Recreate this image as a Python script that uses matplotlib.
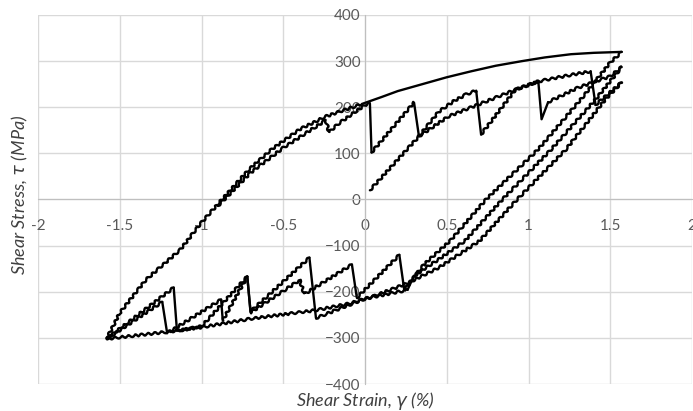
import numpy as np
import matplotlib.pyplot as plt

plt.rcParams.update({"font.family": ["Lato", "DejaVu Sans"]})

GRID, TXT, AX = "#d9d9d9", "#595959", "#bfbfbf"

# first full reload, -1.58 % -> +1.57 %
outer_x = [-1.58, -1.50, -1.34, -1.13, -1.01, -0.90, -0.71, -0.57, -0.40, -0.24, -0.02,
           0.10, 0.20, 0.35, 0.50, 0.65, 0.80, 0.96, 1.10, 1.26, 1.40, 1.57]
outer_y = [-302, -246, -174, -109, -54, -10, 65, 109, 152, 180, 207,
           222, 235, 250, 265, 278, 290, 300, 308, 315, 318, 320]

# serrated tensile branch (shares the lower part of the reload curve)
tens_x = [-0.90, -0.70, -0.50, -0.30, -0.24, -0.22, -0.16, 0.00, 0.03, 0.04, 0.30, 0.33,
          0.51, 0.92, 1.06, 1.08, 1.12, 1.30, 1.50, 1.57]
tens_y = [-14, 58, 112, 158, 172, 146, 165, 205, 208, 102, 210, 137,
          180, 238, 256, 174, 211, 242, 267, 287]

# initial loading from the origin
init_x = [0.03, 0.33, 0.45, 0.55, 0.62, 0.68, 0.71, 0.92, 1.06, 1.20, 1.38, 1.41, 1.57]
init_y = [20, 137, 190, 215, 228, 236, 141, 238, 256, 266, 278, 205, 254]

# unloading branches from the three tips
unl1_x = [1.57, 1.50, 1.32, 1.06, 0.74, 0.52, 0.36]
unl1_y = [320, 297, 217, 109, 0, -90, -141]
unl2_x = [1.57, 1.41, 1.14, 0.84, 0.61, 0.45, 0.30]
unl2_y = [287, 217, 109, 0, -90, -130, -165]
unl3_x = [1.57, 1.47, 1.23, 0.93, 0.70, 0.45, 0.25, 0.05, -0.10, -0.30, -0.69, -1.00, -1.21, -1.58]
unl3_y = [254, 217, 109, 0, -90, -148, -183, -210, -226, -240, -258, -277, -287, -302]

# serrated compressive branches
comp1_x = [0.36, 0.24, 0.21, -0.05, -0.08, -0.37, -0.40, -0.70, -0.72, -0.87, -0.88, -1.21, -1.24, -1.58]
comp1_y = [-141, -196, -120, -213, -141, -205, -175, -245, -167, -262, -217, -290, -222, -302]
comp2_x = [0.30, 0.26, 0.00, -0.30, -0.34, -0.70, -0.72, -1.00, -1.15, -1.17, -1.58]
comp2_y = [-165, -196, -215, -257, -126, -243, -167, -275, -285, -191, -302]

fig = plt.figure(figsize=(6.93, 4.11), dpi=100)
ax = fig.add_axes([38 / 693, 27 / 411, 654 / 693, 369 / 411])


def draw(x, y, sketch=True):
    ln, = ax.plot(x, y, color="black", lw=1.7, solid_joinstyle="round",
                  solid_capstyle="round", zorder=3)
    if sketch:
        ln.set_sketch_params(scale=1.2, length=7, randomness=1.5)


def branch(x, y):
    # ramps get the stepped texture, sudden stress drops stay straight
    x, y = np.asarray(x), np.asarray(y)
    drop = (np.abs(np.diff(x)) <= 0.05) & (np.abs(np.diff(y)) > 30)
    start = 0
    for i in range(1, len(drop) + 1):
        if i == len(drop) or drop[i] != drop[start]:
            draw(x[start:i + 1], y[start:i + 1], sketch=not drop[start])
            start = i


n = 11
branch(outer_x[:n], outer_y[:n])
draw(outer_x[n - 1:], outer_y[n - 1:], sketch=False)
for xs, ys in [(tens_x, tens_y), (init_x, init_y), (unl1_x, unl1_y), (unl2_x, unl2_y),
               (unl3_x, unl3_y), (comp1_x, comp1_y), (comp2_x, comp2_y)]:
    branch(xs, ys)

ax.set_xlim(-2, 2)
ax.set_ylim(-400, 400)
ax.set_xticks(np.arange(-2, 2.01, 0.5))
ax.set_yticks(np.arange(-400, 401, 100))
ax.set_xticklabels(["-2", "-1.5", "-1", "-0.5", "0", "0.5", "1", "1.5", "2"])
ax.grid(True, color=GRID, lw=1)
ax.set_axisbelow(True)
for s in ["top", "right"]:
    ax.spines[s].set_visible(False)
ax.spines["left"].set_position(("data", 0))
ax.spines["bottom"].set_position(("data", 0))
ax.spines["left"].set_color(AX)
ax.spines["bottom"].set_color(AX)
ax.tick_params(length=0, labelsize=11, colors=TXT, pad=3)
ax.tick_params(axis="x", pad=14)

fig.text(365 / 693, 1 - 401 / 411, "Shear Strain, $\\gamma$ (%)", ha="center", va="center",
         fontsize=13, style="italic", color="#404040")
fig.text(20 / 693, 1 - 195 / 411, "Shear Stress, $\\tau$ (MPa)", ha="center", va="center",
         fontsize=13, style="italic", color="#404040", rotation=90)

fig.savefig("out.png", dpi=100)
